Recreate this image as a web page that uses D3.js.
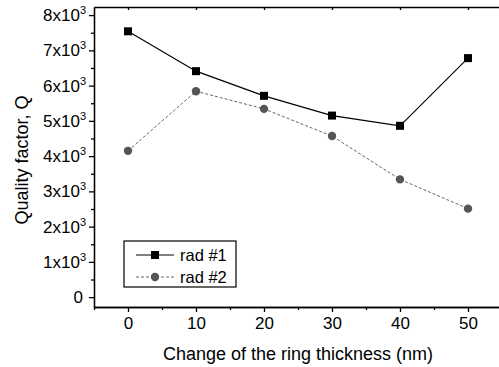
<!DOCTYPE html>
<html>
<head>
<meta charset="utf-8">
<script src="https://cdn.jsdelivr.net/npm/d3@7"></script>
<style>
  body { margin: 0; background: #fff; }
  svg { display: block; font-family: "Liberation Sans", Arial, sans-serif; }
  .axis path, .axis line { stroke: #000; stroke-width: 1.3; }
  .axis text { font-size: 17px; fill: #000; font-family: "Liberation Sans", Arial, sans-serif; }
</style>
</head>
<body>
<div id="chart"></div>
<script>
// data
var thickness = [0, 10, 20, 30, 40, 50];
var rad1 = [7540, 6410, 5710, 5150, 4860, 6780];
var rad2 = [4150, 5840, 5340, 4570, 3340, 2510];
var seriesNames = ["rad #1", "rad #2"];
var xTicks = [0, 10, 20, 30, 40, 50];
var yTicks = [0, 1000, 2000, 3000, 4000, 5000, 6000, 7000, 8000];

var W = 499, H = 367;
var margin = {top: 7, left: 94, bottom: 60};

var svg = d3.select("#chart").append("svg")
    .attr("width", W)
    .attr("height", H);

var x = d3.scaleLinear().domain([-5, 55]).range([margin.left, 502]);
var y = d3.scaleLinear().domain([-280, 8230]).range([H - margin.bottom, margin.top]);

// minor ticks
var xMinor = d3.range(-5, 56, 5).filter(function(v){ return xTicks.indexOf(v) < 0; });
var yMinor = d3.range(500, 8230, 1000);

svg.append("g").attr("class", "axis")
    .attr("transform", "translate(0," + y.range()[0] + ")")
    .call(d3.axisBottom(x).tickValues(xMinor).tickSize(3).tickFormat("").tickSizeOuter(0));
svg.append("g").attr("class", "axis")
    .attr("transform", "translate(0," + y.range()[0] + ")")
    .call(d3.axisBottom(x).tickValues(xTicks).tickSize(5).tickSizeOuter(0).tickPadding(5));

svg.append("g").attr("class", "axis")
    .attr("transform", "translate(" + margin.left + ",0)")
    .call(d3.axisLeft(y).tickValues(yMinor).tickSize(3).tickFormat("").tickSizeOuter(0));
var yAxis = svg.append("g").attr("class", "axis")
    .attr("transform", "translate(" + margin.left + ",0)")
    .call(d3.axisLeft(y).tickValues(yTicks).tickSize(5).tickSizeOuter(0).tickPadding(3));

// labels like 8x10^3
yAxis.selectAll(".tick text").each(function(d) {
  var t = d3.select(this);
  if (d === 0) { t.text("0").attr("dx", "-3"); return; }
  t.text(d / 1000 + "x10");
  t.append("tspan").attr("dy", "-7").attr("font-size", "11px").text("3");
});

// top frame with inward ticks
svg.append("g").attr("class", "axis")
    .attr("transform", "translate(0," + margin.top + ")")
    .call(d3.axisBottom(x).tickValues(xTicks).tickSize(3).tickFormat("").tickSizeOuter(0));

// lines
var line1 = d3.line().x(function(d, i){ return x(thickness[i]); }).y(function(d){ return y(d); });

svg.append("path").datum(rad2)
    .attr("fill", "none").attr("stroke", "#666").attr("stroke-width", 1)
    .attr("stroke-dasharray", "3,2")
    .attr("d", line1);
svg.append("path").datum(rad1)
    .attr("fill", "none").attr("stroke", "#000").attr("stroke-width", 1.2)
    .attr("d", line1);

svg.selectAll(".sq").data(rad1).enter().append("rect")
    .attr("x", function(d, i){ return x(thickness[i]) - 4; })
    .attr("y", function(d){ return y(d) - 4; })
    .attr("width", 8).attr("height", 8)
    .attr("fill", "#000");

svg.selectAll(".ci").data(rad2).enter().append("circle")
    .attr("cx", function(d, i){ return x(thickness[i]); })
    .attr("cy", function(d){ return y(d); })
    .attr("r", 4.2)
    .attr("fill", "#555");

// legend
var lg = svg.append("g").attr("transform", "translate(124,241)");
lg.append("rect").attr("width", 112).attr("height", 46)
    .attr("fill", "#fff").attr("stroke", "#000").attr("stroke-width", 1.2);
lg.append("line").attr("x1", 12).attr("x2", 50).attr("y1", 14).attr("y2", 14)
    .attr("stroke", "#000").attr("stroke-width", 1.2);
lg.append("rect").attr("x", 27).attr("y", 10).attr("width", 8).attr("height", 8).attr("fill", "#000");
lg.append("line").attr("x1", 12).attr("x2", 50).attr("y1", 36).attr("y2", 36)
    .attr("stroke", "#666").attr("stroke-dasharray", "3,2");
lg.append("circle").attr("cx", 31).attr("cy", 36).attr("r", 4.2).attr("fill", "#555");
lg.selectAll(".lt").data(seriesNames).enter().append("text")
    .attr("x", 56).attr("y", function(d, i){ return 20 + i * 22; })
    .attr("font-size", "16.5px")
    .text(function(d){ return d; });

// axis titles
svg.append("text")
    .attr("x", 298).attr("y", 360)
    .attr("text-anchor", "middle").attr("font-size", "18px")
    .text("Change of the ring thickness (nm)");

svg.append("text")
    .attr("transform", "rotate(-90)")
    .attr("x", -160).attr("y", 28)
    .attr("text-anchor", "middle").attr("font-size", "18px")
    .text("Quality factor, Q");
</script>
</body>
</html>
